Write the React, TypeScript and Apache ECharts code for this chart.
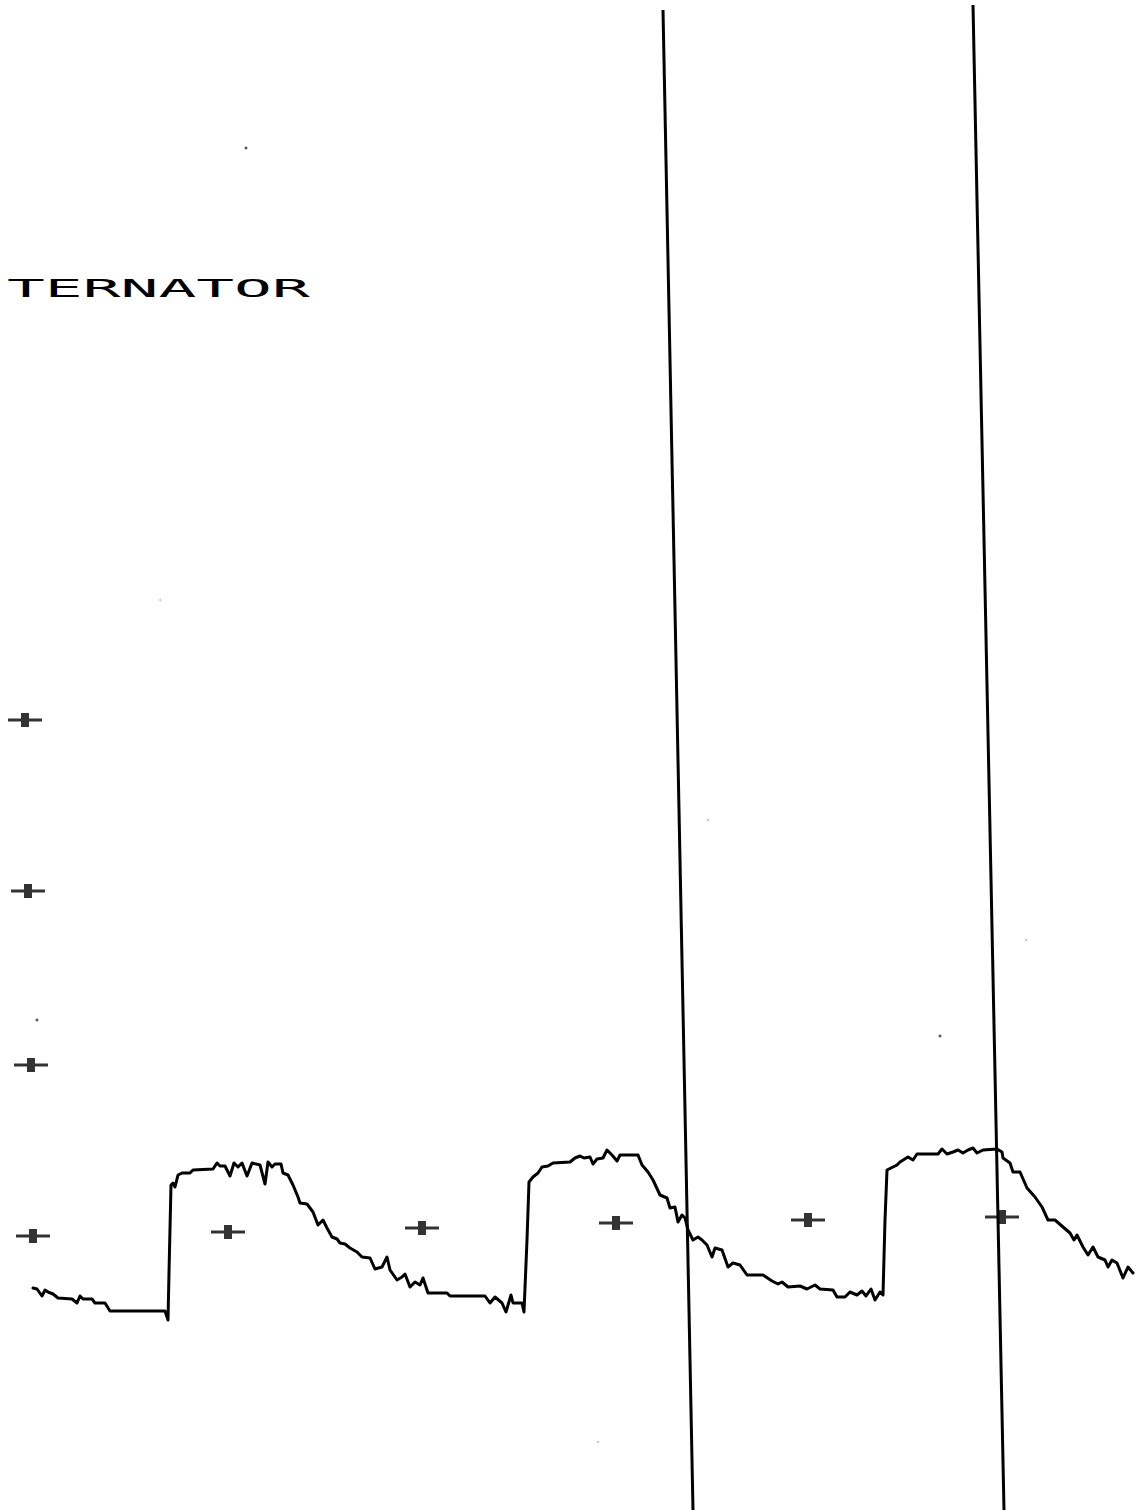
import React, { useEffect, useRef } from "react";
import * as echarts from "echarts";

// Trace (x, y in plot units; y grows downward)
const cycle1: number[][] = [
  [33, 1288], [37, 1289], [42, 1296], [45, 1290], [48, 1292], [53, 1294], [58, 1298], [72, 1299],
  [77, 1303], [80, 1296], [83, 1299], [92, 1299], [95, 1303], [105, 1303], [110, 1311], [165, 1311],
  [168, 1320], [169, 1273], [171, 1185], [173, 1183], [175, 1187], [178, 1175], [182, 1173], [190, 1173],
  [193, 1170], [213, 1169], [217, 1163], [220, 1166], [225, 1166], [230, 1176], [234, 1163], [238, 1167],
  [242, 1163], [247, 1176], [252, 1163], [260, 1165], [265, 1184], [268, 1162], [272, 1167], [275, 1164],
  [281, 1164], [283, 1173], [288, 1175], [293, 1185], [298, 1197], [300, 1203], [307, 1204], [310, 1208],
  [313, 1212], [318, 1225], [323, 1220], [327, 1228], [332, 1237], [337, 1239], [340, 1243], [345, 1244],
  [350, 1248], [357, 1252], [362, 1257], [370, 1258], [375, 1269], [382, 1267], [387, 1257], [390, 1270],
  [397, 1280], [402, 1277], [405, 1274], [410, 1287], [415, 1282], [420, 1285], [423, 1278], [428, 1293],
  [447, 1293], [450, 1296], [485, 1296], [490, 1303], [495, 1297], [502, 1303], [506, 1312], [511, 1295],
  [513, 1303], [522, 1303], [524, 1312],
];
const cycle2: number[][] = [
  [527, 1240], [529, 1182], [533, 1177], [538, 1173], [542, 1167], [548, 1166], [553, 1163], [570, 1162],
  [575, 1158], [580, 1156], [584, 1158], [590, 1157], [593, 1164], [597, 1159], [603, 1158], [607, 1150],
  [612, 1155], [617, 1161], [620, 1155], [638, 1155], [642, 1165], [648, 1172], [653, 1180], [660, 1195],
  [667, 1198], [670, 1208], [675, 1207], [678, 1222], [682, 1215], [685, 1218], [688, 1230], [693, 1240],
  [698, 1237], [702, 1240], [707, 1245], [712, 1257], [715, 1248], [722, 1250], [728, 1267], [733, 1263],
  [740, 1265], [747, 1275], [763, 1275], [772, 1281], [778, 1284], [782, 1282], [788, 1287], [800, 1286],
  [807, 1289], [815, 1285], [820, 1289], [833, 1290], [837, 1297], [845, 1297], [850, 1292], [857, 1295],
  [862, 1291], [866, 1296], [871, 1289], [875, 1300], [880, 1292], [883, 1295],
];
const cycle3: number[][] = [
  [885, 1220], [887, 1170], [897, 1165], [900, 1162], [908, 1157], [913, 1160], [917, 1154], [938, 1154],
  [942, 1149], [947, 1154], [953, 1152], [958, 1150], [963, 1153], [968, 1150], [973, 1148], [977, 1153],
  [983, 1150], [997, 1149], [1002, 1152], [1003, 1158], [1010, 1163], [1013, 1172], [1020, 1172], [1027, 1188],
  [1035, 1197], [1042, 1207], [1048, 1220], [1055, 1220], [1063, 1227], [1070, 1233], [1074, 1240], [1077, 1235],
  [1083, 1247], [1088, 1255], [1093, 1247], [1098, 1257], [1105, 1260], [1108, 1267], [1112, 1260], [1117, 1263],
  [1123, 1278], [1128, 1267], [1133, 1273],
];

// Grid reference crosses
const crosses: number[][] = [
  [25, 720], [28, 891], [31, 1065], [33, 1236],
  [228, 1232], [422, 1228], [616, 1223], [808, 1220], [1002, 1217],
];

// Cursor lines (top and bottom ends)
const cursorA: number[][] = [[663, 10], [693, 1510]];
const cursorB: number[][] = [[973, 5], [1004, 1510]];

// Specks on the scan
const specksDark: number[][] = [[246, 148], [37, 1020], [940, 1036]];
const specksFaint: number[][] = [[160, 600], [708, 820], [1026, 940], [598, 1442]];

const titleText = "TERNATOR";

const crossPath =
  "path://M0,5.5 L13,5.5 L13,0 L21,0 L21,5.5 L34,5.5 L34,8.5 L21,8.5 L21,14 L13,14 L13,8.5 L0,8.5 Z";

export default function App() {
  const ref = useRef<HTMLDivElement>(null);
  useEffect(() => {
    if (!ref.current) return;
    const chart = echarts.init(ref.current, undefined, { renderer: "svg" });
    const trace = [...cycle1, ...cycle2, ...cycle3];
    chart.setOption({
      animation: false,
      backgroundColor: "#ffffff",
      grid: { left: 0, right: 0, top: 0, bottom: 0, containLabel: false },
      xAxis: { type: "value", min: 0, max: 1140, show: false },
      yAxis: { type: "value", min: 0, max: 1510, inverse: true, show: false },
      graphic: [
        {
          type: "text",
          x: 7,
          y: 277,
          scaleX: 2.62,
          style: {
            text: titleText,
            font: "24px 'DejaVu Sans Mono', monospace",
            fill: "#000",
            verticalAlign: "top",
            align: "left",
          },
        },
      ],
      series: [
        {
          type: "line",
          data: trace,
          symbol: "none",
          lineStyle: { color: "#000", width: 3, join: "round", cap: "round" },
          silent: true,
        },
        {
          type: "line",
          data: cursorA,
          symbol: "none",
          lineStyle: { color: "#000", width: 3 },
          silent: true,
        },
        {
          type: "line",
          data: cursorB,
          symbol: "none",
          lineStyle: { color: "#000", width: 3 },
          silent: true,
        },
        {
          type: "scatter",
          data: crosses,
          symbol: crossPath,
          symbolSize: [34, 14],
          itemStyle: { color: "#000" },
          silent: true,
        },
        {
          type: "scatter",
          data: specksDark,
          symbol: "circle",
          symbolSize: 3,
          itemStyle: { color: "#333" },
          silent: true,
        },
        {
          type: "scatter",
          data: specksFaint,
          symbol: "circle",
          symbolSize: 2,
          itemStyle: { color: "#aaa" },
          silent: true,
        },
      ],
    });
    return () => chart.dispose();
  }, []);
  return (
    <div
      ref={ref}
      style={{ position: "absolute", left: 0, top: 0, width: 1140, height: 1510, background: "#fff" }}
    />
  );
}
